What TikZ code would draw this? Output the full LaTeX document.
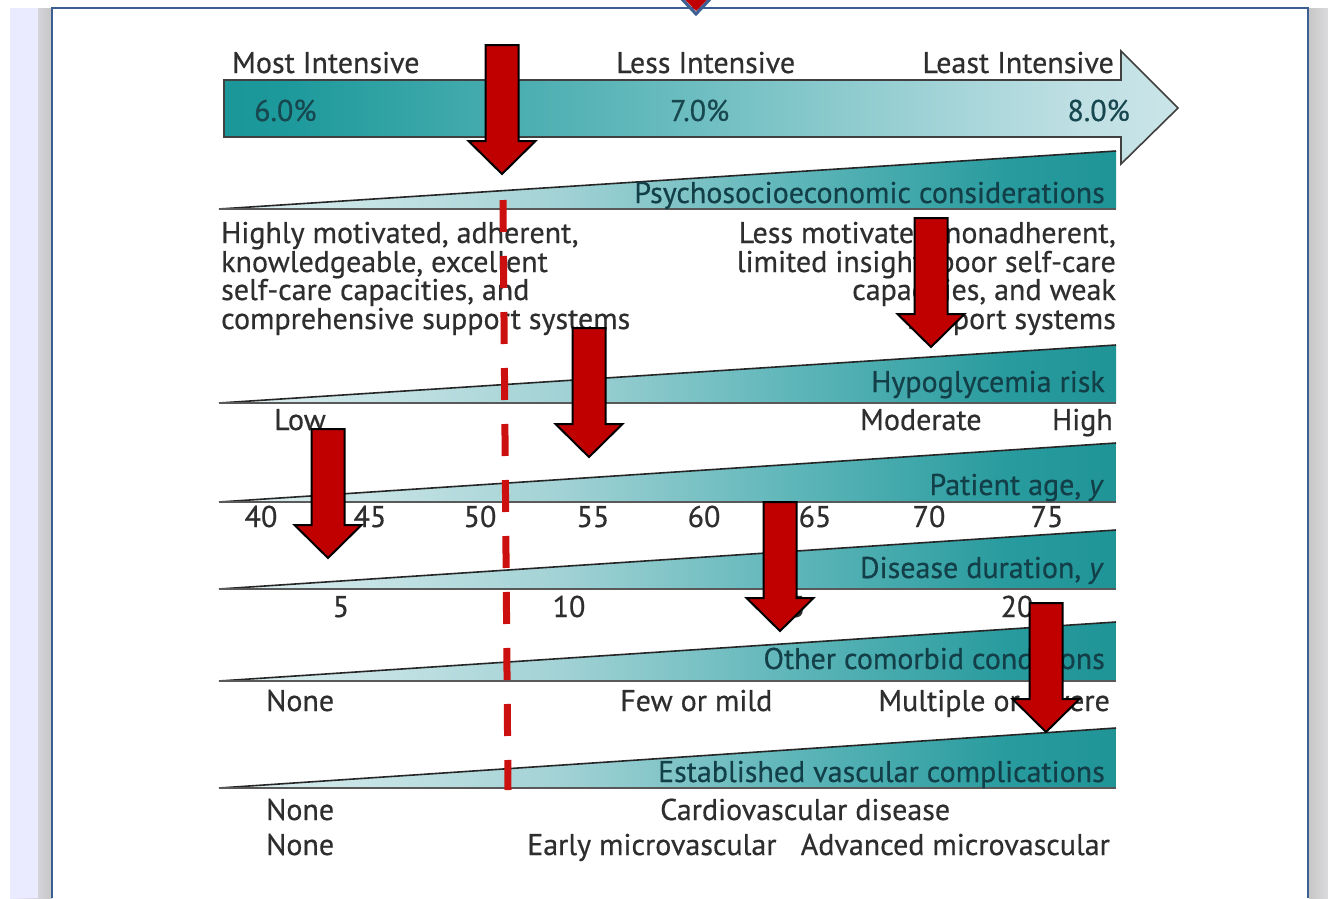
\documentclass[tikz,border=0pt]{standalone}
\usepackage{fontspec}
\setmainfont{PT Sans}
\newfontfamily\figfont{PT Sans}[FakeBold=0.5]
\usetikzlibrary{calc}

\definecolor{txtgray}{HTML}{2E2E2E}
\definecolor{bandtxt}{HTML}{123F48}
\definecolor{pcttxt}{HTML}{17474F}
\definecolor{framblue}{HTML}{3B5E93}
\definecolor{redfill}{HTML}{C00000}
\definecolor{dashred}{HTML}{CC1010}
\definecolor{bandA}{HTML}{E2F0F1}
\definecolor{bandB}{HTML}{A2D2D5}
\definecolor{bandC}{HTML}{5EB6B9}
\definecolor{bandD}{HTML}{289B9E}
\definecolor{bandE}{HTML}{12898B}
\definecolor{bandF}{HTML}{0A7275}
\definecolor{arrA}{HTML}{0F8587}
\definecolor{arrB}{HTML}{1C999B}
\definecolor{arrC}{HTML}{6EBEC1}
\definecolor{arrD}{HTML}{C0E0E4}
\definecolor{arrE}{HTML}{E3F1F4}
\definecolor{arrF}{HTML}{F0F7F9}

% horizontal fills for the bands and for the scale arrow
\pgfdeclarehorizontalshading{bandshade}{100bp}{color(0bp)=(white); color(25bp)=(bandA); color(44bp)=(bandB); color(57bp)=(bandC); color(69bp)=(bandD); color(84bp)=(bandE); color(100bp)=(bandF)}
\pgfdeclarehorizontalshading{scaleshade}{100bp}{color(0bp)=(arrA); color(28bp)=(arrB); color(50bp)=(arrC); color(70bp)=(arrD); color(88bp)=(arrE); color(100bp)=(arrF)}

\tikzset{
  lbl/.style={font=\figfont\fontsize{30}{32}\selectfont, text=txtgray, inner sep=0pt},
  pct/.style={font=\figfont\fontsize{30}{32}\selectfont, text=pcttxt, inner sep=0pt},
  bandlbl/.style={font=\figfont\fontsize{30}{32}\selectfont, text=bandtxt, inner sep=0pt, anchor=base east},
  bandfill/.style={shading=bandshade},
  bandedge/.style={draw=black!85, line width=1.6pt},
  bandbase/.style={draw=black!65, line width=2pt},
  pics/downarrow/.style={code={
    \draw[fill=redfill, draw=black, line width=2pt, line join=miter]
      (-16.5,0) -- (16.5,0) -- (16.5,96) -- (33.5,96) -- (0,129)
      -- (-33.5,96) -- (-16.5,96) -- cycle;
  }},
}

% one sloping band: bottom edge at #1, top right corner at #2
\newcommand\slopeband[2]{%
  \shade[bandfill] (219,#1) -- (1116,#2) -- (1116,#1) -- cycle;
  \draw[bandedge] (219,#1) -- (1116,#2);
  \draw[bandbase] (219,#1) -- (1116,#1);
}

\begin{document}
\begin{tikzpicture}[x=1pt,y=-1pt]
\useasboundingbox (0,0) rectangle (1328,898);
\fill[white] (0,0) rectangle (1328,898);

% page frame and side strips
\shade[left color=blue!8!white, right color=black!22] (10,8) rectangle (52,898);
\fill[blue!8!white] (10,8) rectangle (38,898);
\shade[left color=black!22, right color=blue!10!black!14] (1309,8) rectangle (1328,898);
\draw[framblue, line width=2.5pt] (52,898) -- (52,8) -- (1308,8) -- (1308,898);
\fill[redfill] (683,-2) -- (709,-2) -- (696,11) -- cycle;
\draw[framblue, line width=3pt] (680,-3) -- (696,14) -- (712,-3);

% intensity scale arrow
\shade[shading=scaleshade, draw=black!75, line width=1.6pt]
  (224,80) -- (1121,80) -- (1121,51) -- (1178,108) -- (1121,164)
  -- (1121,137) -- (224,137) -- cycle;
\node[lbl, anchor=base west] (most) at (232,73) {Most Intensive};
\node[lbl, anchor=base west] (less) at (616,73) {Less Intensive};
\node[lbl, anchor=base east] (least) at (1114,73) {Least Intensive};
\node[pct, anchor=base west] (p6) at (254,121) {6.0\%};
\node[pct, anchor=base west] (p7) at (670,121) {7.0\%};
\node[pct, anchor=base east] (p8) at (1130,121) {8.0\%};

% the six bands
\slopeband{209}{151}
\slopeband{403}{345}
\slopeband{502}{443}
\slopeband{589}{530}
\slopeband{681}{622}
\slopeband{788}{728}

\node[bandlbl] (psy) at (1105,203) {Psychosocioeconomic considerations};
\node[bandlbl] (hypo) at (1105,392) {Hypoglycemia risk};
\node[bandlbl] (age) at (1104,495) {Patient age, \textit{y}};
\node[bandlbl] (dur) at (1104,578) {Disease duration, \textit{y}};
\node[bandlbl] (com) at (1105,669) {Other comorbid conditions};
\node[bandlbl] (vas) at (1105,782) {Established vascular complications};

% psychosocioeconomic descriptions
\node[lbl, anchor=base west] (l1) at (221,243) {Highly motivated, adherent,};
\node[lbl, anchor=base west] (l2) at (221,272) {knowledgeable, excellent};
\node[lbl, anchor=base west] (l3) at (221,300) {self-care capacities, and};
\node[lbl, anchor=base west] (l4) at (221,329) {comprehensive support systems};
\node[lbl, anchor=base east] (r1) at (1116,243) {Less motivated, nonadherent,};
\node[lbl, anchor=base east] (r2) at (1116,272) {limited insight, poor self-care};
\node[lbl, anchor=base east] (r3) at (1116,300) {capacities, and weak};
\node[lbl, anchor=base east] (r4) at (1116,329) {support systems};

% hypoglycemia risk
\node[lbl, anchor=base west] (low) at (274,430) {Low};
\node[lbl, anchor=base west] (mod) at (860,430) {Moderate};
\node[lbl, anchor=base east] (high) at (1113,430) {High};

% patient age
\foreach \v/\px in {40/261,45/370,50/480,55/593,60/704,65/815,70/929,75/1047}
  \node[lbl, anchor=base] (age\v) at (\px,527) {\v};

% disease duration
\foreach \v/\px in {5/341,10/569,15/789,20/1017}
  \node[lbl, anchor=base] (dur\v) at (\px,617) {\v};

% comorbid conditions
\node[lbl, anchor=base west] (cn) at (266,711) {None};
\node[lbl, anchor=base west] (cf) at (620,711) {Few or mild};
\node[lbl, anchor=base east] (cm) at (1110,711) {Multiple or severe};

% vascular complications
\node[lbl, anchor=base west] (vn1) at (266,820) {None};
\node[lbl, anchor=base west] (vc) at (660,820) {Cardiovascular disease};
\node[lbl, anchor=base west] (vn2) at (266,855) {None};
\node[lbl, anchor=base west] (ve) at (527,855) {Early microvascular};
\node[lbl, anchor=base east] (va) at (1110,855) {Advanced microvascular};

% individual cut line
\coordinate (cuttop) at (503,200);
\coordinate (cutbot) at (508,790);
\draw[dashred, line width=7pt, dash pattern=on 32pt off 24pt] (cuttop) -- (cutbot);

% red markers
\pic at (502,45) {downarrow};
\pic at (931,218) {downarrow};
\pic at (589,328) {downarrow};
\pic at (328,429) {downarrow};
\pic at (780,502) {downarrow};
\pic at (1046,603) {downarrow};
\end{tikzpicture}
\end{document}
